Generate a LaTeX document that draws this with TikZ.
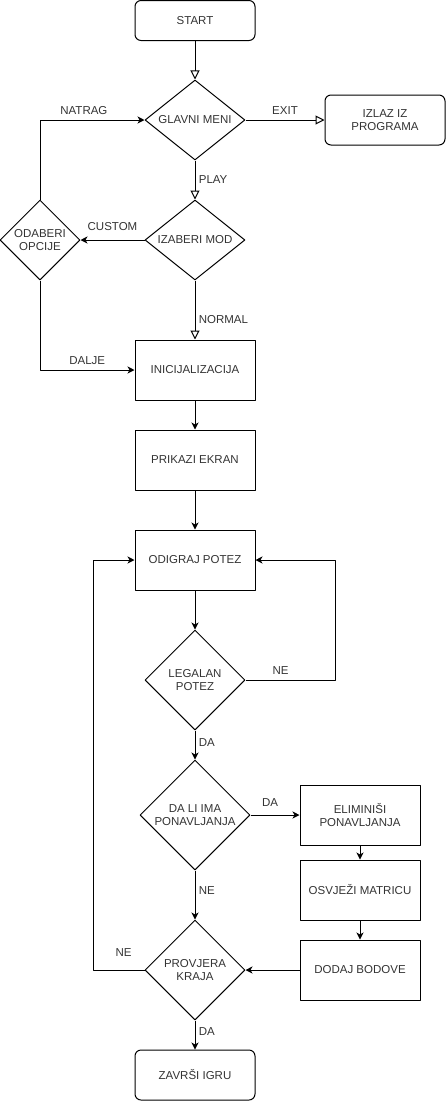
\documentclass[tikz,border=0pt]{standalone}
\usepackage{fontspec}
\setmainfont{Liberation Sans}
\usetikzlibrary{shapes.geometric,arrows.meta}
\begin{document}
\begin{tikzpicture}[x=1pt,y=-1pt,line join=round,line width=1pt,font=\fontsize{11.5}{13.5}\selectfont,
	>={Stealth[length=7pt,width=7pt,inset=2pt]},
	every node/.style={text=black!80,align=center},
	blok/.style={draw=black,rectangle,minimum width=120pt,minimum height=60pt,inner sep=0pt},
	kraj/.style={blok,rounded corners=6pt},
	odluka/.style={draw=black,diamond,inner sep=0pt},
	otv/.style={-{Triangle[open,length=9pt,width=9pt]}}]
	\useasboundingbox (0,0) rectangle (446,1101);
	%Cvorovi
	\node[kraj,minimum height=40pt] (start) at (195,20.5) {START};
	\node[odluka,minimum width=100pt,minimum height=80pt,shape aspect=1.25] (meni) at (195,120) {GLAVNI MENI};
	\node[kraj,minimum height=50pt] (izlaz) at (385,120) {IZLAZ IZ\\PROGRAMA};
	\node[odluka,minimum width=100pt,minimum height=80pt,shape aspect=1.25] (mod) at (195,240) {IZABERI MOD};
	\node[odluka,minimum size=80pt] (opcije) at (40,240) {ODABERI\\OPCIJE};
	\node[blok] (init) at (195,370) {INICIJALIZACIJA};
	\node[blok] (ekran) at (195,460) {PRIKAZI EKRAN};
	\node[blok] (potez) at (195,560) {ODIGRAJ POTEZ};
	\node[odluka,minimum size=100pt] (legalan) at (195,680) {LEGALAN\\POTEZ};
	\node[odluka,minimum size=110pt] (ponav) at (195,815) {DA LI IMA\\PONAVLJANJA};
	\node[blok] (elim) at (360,815) {ELIMINIŠI\\PONAVLJANJA};
	\node[blok] (matr) at (360,890) {OSVJEŽI MATRICU};
	\node[blok] (bod) at (360,970) {DODAJ BODOVE};
	\node[odluka,minimum size=100pt] (provj) at (195,970) {PROVJERA\\KRAJA};
	\node[kraj,minimum height=50pt] (zavrsi) at (195,1075) {ZAVRŠI IGRU};
	%Veze
	\draw[otv] (start)--(meni);
	\draw[otv] (meni)--node[above=2pt]{EXIT}(izlaz);
	\draw[otv] (meni)--node[right]{PLAY}(mod);
	\draw[->] (opcije.north)|-node[pos=.71,above=2pt]{NATRAG}(meni.west);
	\draw[->] (mod)--node[above=6pt]{CUSTOM}(opcije);
	\draw[otv] (mod)--node[pos=.67,right]{NORMAL}(init);
	\draw[->] (opcije.south)|-node[pos=.75,above=2pt]{DALJE}(init.west);
	\foreach \a/\b in {init/ekran,ekran/potez,potez/legalan,elim/matr,matr/bod,bod/provj}
		\draw[->] (\a)--(\b);
	\draw[->] (legalan.east)--node[pos=.39,above=2pt]{NE}++(90,0)|-(potez.east);
	\draw[->] (legalan)--node[pos=.4,right]{DA}(ponav);
	\draw[->] (ponav)--node[pos=.4,above=5pt]{DA}(elim);
	\draw[->] (ponav)--node[pos=.4,right]{NE}(provj);
	\draw[->] (provj.west)--node[pos=.41,above=10pt]{NE}++(-51,0)|-(potez.west);
	\draw[->] (provj)--node[pos=.37,right]{DA}(zavrsi);
\end{tikzpicture}
\end{document}
